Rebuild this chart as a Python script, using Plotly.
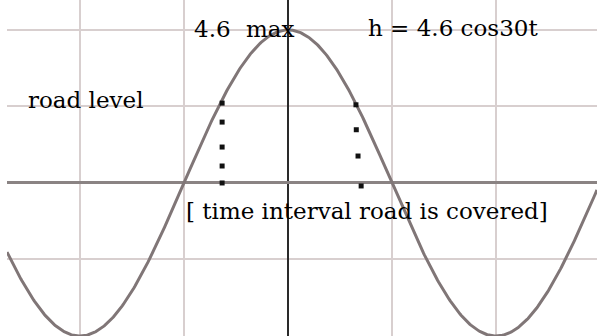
import numpy as np
import plotly.graph_objects as go

# Tide model: h = A cos(W t)  (W in degrees per hour)
AMPLITUDE = 4.6
OMEGA_DEG = 30
ROAD_LEVEL = 2.3

t_range = [-8.105, 8.913]
h_range = [-4.6, 5.50]

# dotted markers showing where the water is above the road
left_dots_t = [-1.9, -1.9, -1.9, -1.9, -1.9]
left_dots_h = [2.40, 1.83, 1.08, 0.51, 0.0]
right_dots_t = [1.96, 1.97, 2.02, 2.11]
right_dots_h = [2.35, 1.60, 0.81, -0.09]

grid_t = [-6, -3, 3, 6]
grid_h = [-4.6, -2.3, 2.3, 4.6]

t = np.linspace(t_range[0], t_range[1], 600)
h = AMPLITUDE * np.cos(np.radians(OMEGA_DEG * t))

fig = go.Figure()
fig.add_trace(go.Scatter(x=t, y=h, mode="lines",
                         line=dict(color="#807677", width=3), hoverinfo="skip"))
fig.add_trace(go.Scatter(x=left_dots_t + right_dots_t, y=left_dots_h + right_dots_h,
                         mode="markers",
                         marker=dict(symbol="square", size=5, color="#111111"),
                         hoverinfo="skip"))

font = dict(family="DejaVu Serif", size=23, color="#000000")
labels = [
    ("4.6", -2.77, 4.63),
    ("max", -1.27, 4.63),
    ("h = 4.6 cos30t", 2.26, 4.66),
    ("road level", -7.55, 2.5),
    ("[ time interval road is covered]", -3.0, -0.85),
]
for text, x, y in labels:
    fig.add_annotation(x=x, y=y, text=text, showarrow=False, xanchor="left",
                       yanchor="middle", font=font)

fig.update_xaxes(range=t_range, showticklabels=False, ticks="",
                 tickvals=grid_t, showgrid=True, gridcolor="#d8cfcf", gridwidth=2,
                 zeroline=True, zerolinecolor="#2a2a2a", zerolinewidth=2,
                 showline=False, fixedrange=True)
fig.update_yaxes(range=h_range, showticklabels=False, ticks="",
                 tickvals=grid_h, showgrid=True, gridcolor="#d8cfcf", gridwidth=2,
                 zeroline=True, zerolinecolor="#8a8383", zerolinewidth=3,
                 showline=False, fixedrange=True)

fig.update_layout(width=597, height=336, margin=dict(l=7, r=0, t=0, b=0),
                  paper_bgcolor="white", plot_bgcolor="white", showlegend=False)

fig.write_html("out.html")
